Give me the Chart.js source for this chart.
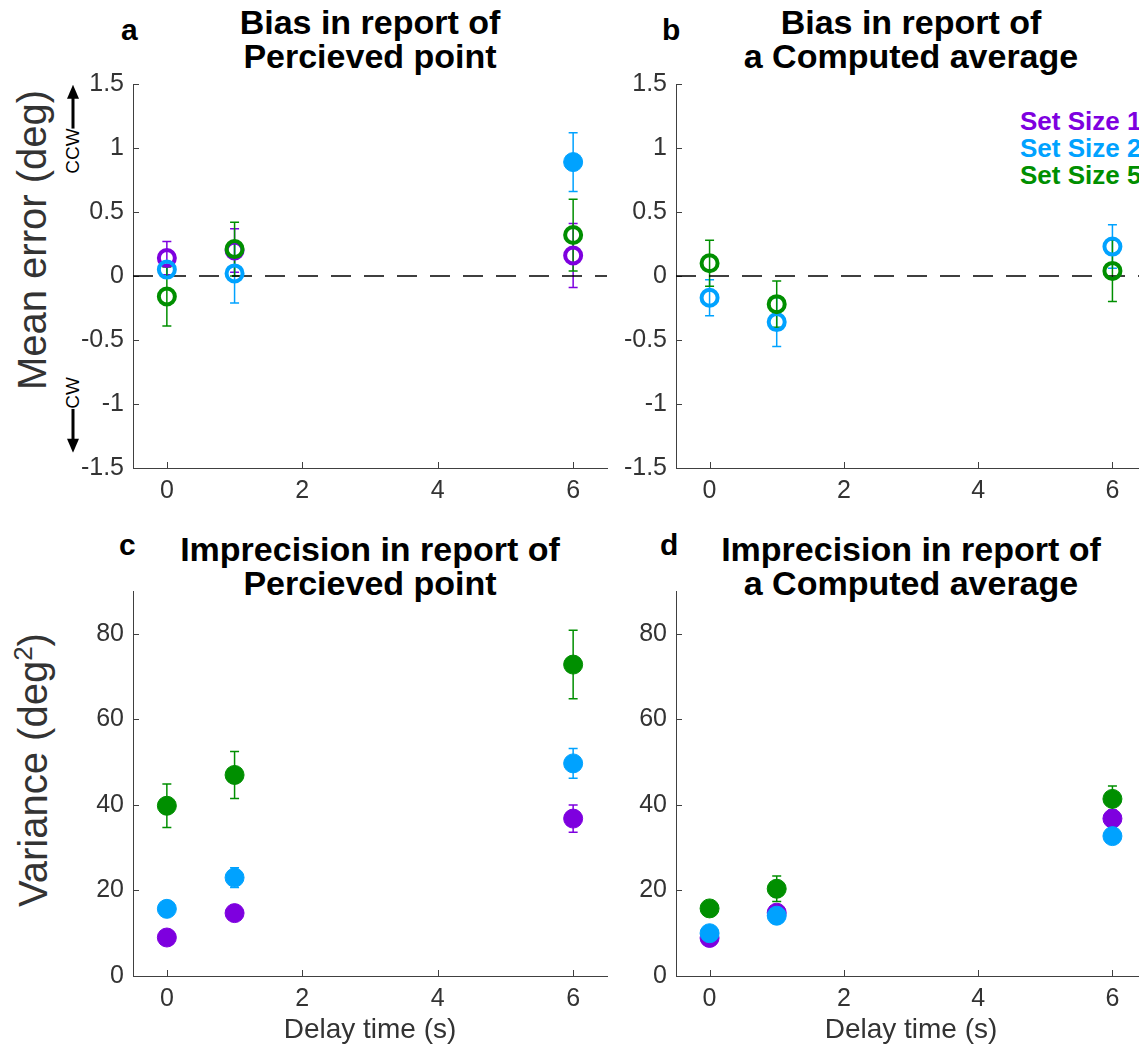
<!DOCTYPE html>
<html>
<head>
<meta charset="utf-8">
<script src="https://cdn.jsdelivr.net/npm/chart.js@4.4.0/dist/chart.umd.min.js"></script>
<style>
  html, body { margin: 0; padding: 0; background: #fff; }
  body { width: 1139px; height: 1047px; position: relative; overflow: hidden; font-family: "Liberation Sans", Arial, sans-serif; }
  canvas { position: absolute; }
  .ttl { position: absolute; text-align: center; font-weight: bold; font-size: 34px; line-height: 34px; color: #000; white-space: nowrap; }
  .lett { position: absolute; font-weight: bold; font-size: 30px; line-height: 36px; color: #000; }
  .ylab { position: absolute; font-size: 40px; color: #333; white-space: nowrap; transform: translate(-50%, -50%) rotate(-90deg); }
  .ylab sup { font-size: 26px; }
  .dir { position: absolute; font-size: 19px; color: #000; white-space: nowrap; display: flex; align-items: center; transform: translate(-50%, -50%) rotate(-90deg); }
  .leg { position: absolute; left: 1020px; font-weight: bold; font-size: 26px; line-height: 27px; white-space: nowrap; }
</style>
</head>
<body>

<div class="lett" style="left:121px; top:12px;">a</div>
<div class="lett" style="left:662px; top:12px;">b</div>
<div class="lett" style="left:119px; top:527px;">c</div>
<div class="lett" style="left:660px; top:527px;">d</div>

<div class="ttl" style="left:133px; width:474px; top:5px;">Bias in report of<br>Percieved point</div>
<div class="ttl" style="left:676px; width:470px; top:5px;">Bias in report of<br>a Computed average</div>
<div class="ttl" style="left:133px; width:474px; top:532px;">Imprecision in report of<br>Percieved point</div>
<div class="ttl" style="left:676px; width:470px; top:532px;">Imprecision in report of<br>a Computed average</div>

<div class="ylab" style="left:32px; top:240px;">Mean error (deg)</div>
<div class="ylab" style="left:32px; top:770px;">Variance (deg<sup>2</sup>)</div>

<div class="dir" style="left:73px; top:129px;">CCW<svg width="44" height="12"><line x1="0" y1="6" x2="32" y2="6" stroke="#000" stroke-width="3"/><polygon points="30,0 44,6 30,12" fill="#000"/></svg></div>
<div class="dir" style="left:73px; top:415px;"><svg width="44" height="12"><line x1="12" y1="6" x2="44" y2="6" stroke="#000" stroke-width="3"/><polygon points="14,0 0,6 14,12" fill="#000"/></svg>CW</div>

<div class="leg" style="top:108px; color:#7e00df;">Set Size 1</div>
<div class="leg" style="top:135px; color:#00a2ff;">Set Size 2</div>
<div class="leg" style="top:162px; color:#008f00;">Set Size 5</div>

<canvas id="chartA" width="620" height="460" style="left:0px; top:60px;"></canvas>
<canvas id="chartB" width="620" height="460" style="left:543px; top:60px;"></canvas>
<canvas id="chartC" width="620" height="487" style="left:0px; top:560px;"></canvas>
<canvas id="chartD" width="620" height="487" style="left:543px; top:560px;"></canvas>

<script>
// delay times (s) and axis ticks
const delays = [0, 1, 6];
const xTicks = [0, 2, 4, 6];
const biasTicks = [-1.5, -1, -0.5, 0, 0.5, 1, 1.5];
const varTicks = [0, 20, 40, 60, 80];
const zeroLine = [-0.5, 6.5];

// a: bias, perceived point
const biasPointSS1 = [0.14, 0.20, 0.16];
const biasPointSS1Err = [0.13, 0.17, 0.25];
const biasPointSS2 = [0.05, 0.02, 0.89];
const biasPointSS2Err = [0.06, 0.23, 0.23];
const biasPointSS5 = [-0.16, 0.21, 0.32];
const biasPointSS5Err = [0.23, 0.21, 0.28];

// b: bias, computed average
const biasAvgSS2 = [-0.17, -0.36, 0.23];
const biasAvgSS2Err = [0.14, 0.19, 0.17];
const biasAvgSS5 = [0.10, -0.22, 0.04];
const biasAvgSS5Err = [0.18, 0.18, 0.24];

// c: variance, perceived point
const varPointSS1 = [9.0, 14.7, 36.8];
const varPointSS1Err = [0.6, 0.9, 3.2];
const varPointSS2 = [15.7, 23.0, 49.7];
const varPointSS2Err = [0.9, 2.3, 3.5];
const varPointSS5 = [39.8, 47.0, 72.8];
const varPointSS5Err = [5.1, 5.5, 8.0];

// d: variance, computed average
const varAvgSS1 = [8.9, 14.8, 36.8];
const varAvgSS1Err = [0.5, 0.8, 2.0];
const varAvgSS2 = [10.0, 14.1, 32.7];
const varAvgSS2Err = [0.6, 0.8, 1.0];
const varAvgSS5 = [15.8, 20.4, 41.4];
const varAvgSS5Err = [1.0, 3.0, 3.0];

const purple = '#7e00df', blue = '#00a2ff', green = '#008f00';
const axisCol = '#404040', textCol = '#333';
const fontFam = '"Liberation Sans", Arial, sans-serif';

// error bars + inward tick marks, drawn under the markers
const extras = {
  id: 'extras',
  beforeDatasetsDraw(chart) {
    const ctx = chart.ctx, area = chart.chartArea;
    const xs = chart.scales.x, ys = chart.scales.y;
    ctx.save();
    ctx.strokeStyle = axisCol;
    ctx.lineWidth = 1;
    ctx.beginPath();
    xs.ticks.forEach(t => {
      const px = Math.round(xs.getPixelForValue(t.value)) + 0.5;
      ctx.moveTo(px, area.bottom); ctx.lineTo(px, area.bottom - 6);
    });
    ys.ticks.forEach(t => {
      const py = Math.round(ys.getPixelForValue(t.value)) + 0.5;
      ctx.moveTo(area.left, py); ctx.lineTo(area.left + 6, py);
    });
    ctx.stroke();

    chart.data.datasets.forEach(ds => {
      if (!ds.err) return;
      ctx.strokeStyle = ds.borderColor;
      ctx.lineWidth = 1.5;
      ctx.beginPath();
      ds.data.forEach((p, j) => {
        const px = xs.getPixelForValue(p.x);
        const lo = ys.getPixelForValue(p.y - ds.err[j]);
        const hi = ys.getPixelForValue(p.y + ds.err[j]);
        ctx.moveTo(px, lo); ctx.lineTo(px, hi);
        ctx.moveTo(px - 4.5, lo); ctx.lineTo(px + 4.5, lo);
        ctx.moveTo(px - 4.5, hi); ctx.lineTo(px + 4.5, hi);
      });
      ctx.stroke();
    });
    ctx.restore();
  }
};

function series(label, ys, errs, color, open, order) {
  return {
    label: label,
    data: delays.map((d, i) => ({ x: d, y: ys[i] })),
    err: errs,
    order: order,
    borderColor: color,
    backgroundColor: color,
    pointBackgroundColor: open.map(o => o ? 'rgba(0,0,0,0)' : color),
    pointBorderColor: color,
    pointBorderWidth: open.map(o => o ? 4 : 1),
    pointRadius: open.map(o => o ? 8 : 9.5),
    showLine: false
  };
}

function dashedZero() {
  return {
    label: 'zero',
    data: zeroLine.map(v => ({ x: v, y: 0 })),
    showLine: true,
    borderColor: '#000',
    borderWidth: 1.5,
    borderDash: [20, 13],
    pointRadius: 0,
    order: 10
  };
}

function xScale(withTitle) {
  return {
    type: 'linear', min: -0.5, max: 6.5,
    afterBuildTicks: s => { s.ticks = xTicks.map(v => ({ value: v })); },
    afterFit: s => { s.height = withTitle ? 71 : 52; },
    grid: { display: true, drawOnChartArea: false, drawTicks: false, tickLength: 0 },
    border: { display: true, color: axisCol, width: 1 },
    ticks: { font: { size: 25, family: fontFam }, color: textCol, padding: 8, maxRotation: 0, callback: v => String(v) },
    title: { display: withTitle, text: 'Delay time (s)', font: { size: 28, family: fontFam }, color: textCol, padding: { top: 4, bottom: 0 } }
  };
}

function yScale(min, max, ticks) {
  return {
    type: 'linear', min: min, max: max,
    afterBuildTicks: s => { s.ticks = ticks.map(v => ({ value: v })); },
    afterFit: s => { s.width = 133; },
    grid: { display: true, drawOnChartArea: false, drawTicks: false, tickLength: 0 },
    border: { display: true, color: axisCol, width: 1 },
    ticks: { font: { size: 25, family: fontFam }, color: textCol, padding: 9, callback: v => String(v) }
  };
}

function makeChart(id, datasets, yMin, yMax, yT, withTitle, padTop, padRight) {
  return new Chart(document.getElementById(id), {
    type: 'scatter',
    data: { datasets: datasets },
    options: {
      responsive: false,
      animation: false,
      events: [],
      layout: { padding: { top: padTop, right: padRight, left: 0, bottom: 0 } },
      scales: { x: xScale(withTitle), y: yScale(yMin, yMax, yT) },
      plugins: { legend: { display: false }, tooltip: { enabled: false } }
    },
    plugins: [extras]
  });
}

makeChart('chartA', [
  dashedZero(),
  series('Set Size 1', biasPointSS1, biasPointSS1Err, purple, [true, true, true], 2),
  series('Set Size 2', biasPointSS2, biasPointSS2Err, blue, [true, true, false], 1),
  series('Set Size 5', biasPointSS5, biasPointSS5Err, green, [true, true, true], 0)
], -1.5, 1.5, biasTicks, false, 24, 13);

makeChart('chartB', [
  dashedZero(),
  series('Set Size 2', biasAvgSS2, biasAvgSS2Err, blue, [true, true, true], 1),
  series('Set Size 5', biasAvgSS5, biasAvgSS5Err, green, [true, true, true], 0)
], -1.5, 1.5, biasTicks, false, 24, 17);

makeChart('chartC', [
  series('Set Size 1', varPointSS1, varPointSS1Err, purple, [false, false, false], 2),
  series('Set Size 2', varPointSS2, varPointSS2Err, blue, [false, false, false], 1),
  series('Set Size 5', varPointSS5, varPointSS5Err, green, [false, false, false], 0)
], 0, 90, varTicks, true, 31, 13);

makeChart('chartD', [
  series('Set Size 1', varAvgSS1, varAvgSS1Err, purple, [false, false, false], 2),
  series('Set Size 2', varAvgSS2, varAvgSS2Err, blue, [false, false, false], 1),
  series('Set Size 5', varAvgSS5, varAvgSS5Err, green, [false, false, false], 0)
], 0, 90, varTicks, true, 31, 17);
</script>
</body>
</html>
